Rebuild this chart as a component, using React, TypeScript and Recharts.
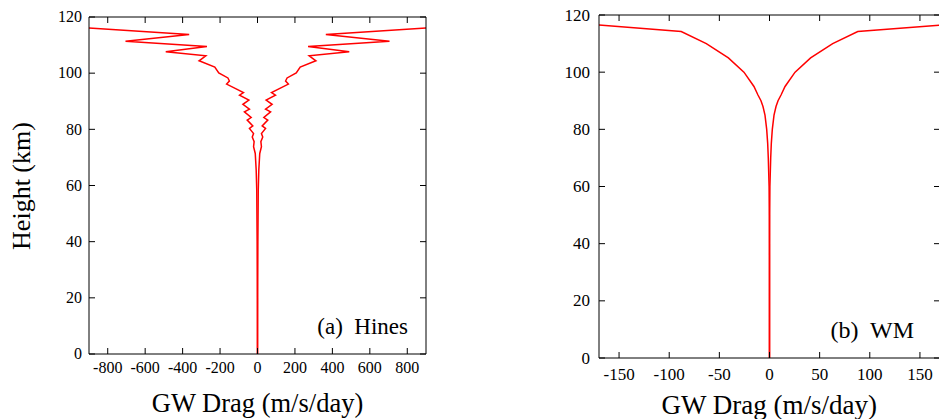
import { LineChart, Line, XAxis, YAxis } from "recharts";

const heightTicks = [0, 20, 40, 60, 80, 100, 120];
const hinesTicks = [-800, -600, -400, -200, 0, 200, 400, 600, 800];
const wmTicks = [-150, -100, -50, 0, 50, 100, 150];

// Hines profile, read top-down (km, m/s/day)
const hinesHeight = [
  116.5, 113.8, 111.4, 109.5, 107.6, 106.2, 104.4, 102.2, 100.1, 98.3, 97.2,
  96.1, 94.4, 93.1, 92.2, 90.4, 88.9, 87.2, 86.2, 84.2, 83.3, 81.2, 80.3, 78.5,
  77.3, 75.6, 73.8, 71.4, 65.5, 58.4, 40, 20, 0,
];
const hinesEast = [
  1000, 365, 705, 270, 490, 276, 312, 228, 207, 158, 150, 165, 114, 75, 96, 46,
  78, 43, 70, 34, 55, 25, 43, 21, 28, 18, 21, 12, 7, 4, 2, 1, 0,
];
const hinesWest = [
  -1000, -365, -705, -270, -490, -276, -312, -228, -207, -158, -150, -165, -114,
  -75, -96, -46, -78, -43, -70, -34, -55, -25, -43, -21, -28, -18, -21, -12, -7,
  -4, -2, -1, 0,
];

// WM profile
const wmHeight = [
  116.6, 114.2, 110, 105, 100, 95, 92, 90, 88, 85, 80, 75, 70, 60, 50, 40, 0,
];
const wmEast = [
  175, 88, 63, 41, 25.5, 15.5, 11.5, 8.5, 6.5, 4.5, 2.8, 1.8, 1.2, 0.4, 0.2, 0.1,
  0,
];
const wmWest = [
  -175, -88, -63, -41, -25.5, -15.5, -11.5, -8.5, -6.5, -4.5, -2.8, -1.8, -1.2,
  -0.4, -0.2, -0.1, 0,
];

const FONT = "'Liberation Serif', 'DejaVu Serif', 'Times New Roman', serif";

const rows = (hs: number[], ds: number[]) =>
  hs.map((h, i) => ({ h, drag: ds[i] }));

// eslint-disable-next-line @typescript-eslint/no-explicit-any
function BottomTick(props: any) {
  const { x, y, payload, fontSize, dy } = props;
  return (
    <g>
      <line x1={x} y1={y} x2={x} y2={y - 6} stroke="#000" />
      <text
        x={x}
        y={y + dy}
        textAnchor="middle"
        style={{ fontFamily: FONT, fontSize }}
        fill="#000"
      >
        {payload.value}
      </text>
    </g>
  );
}

// eslint-disable-next-line @typescript-eslint/no-explicit-any
function TopTick(props: any) {
  const { x, y } = props;
  return <line x1={x} y1={y} x2={x} y2={y + 6} stroke="#000" />;
}

// eslint-disable-next-line @typescript-eslint/no-explicit-any
function LeftTick(props: any) {
  const { x, y, payload, fontSize, gap } = props;
  return (
    <g>
      <line x1={x} y1={y} x2={x + 6} y2={y} stroke="#000" />
      <text
        x={x - gap}
        y={y + fontSize * 0.33}
        textAnchor="end"
        style={{ fontFamily: FONT, fontSize }}
        fill="#000"
      >
        {payload.value}
      </text>
    </g>
  );
}

// eslint-disable-next-line @typescript-eslint/no-explicit-any
function RightTick(props: any) {
  const { x, y } = props;
  return <line x1={x} y1={y} x2={x - 6} y2={y} stroke="#000" />;
}

type PanelProps = {
  width: number;
  margin: { top: number; right: number; bottom: number; left: number };
  domain: [number, number];
  ticks: number[];
  east: { h: number; drag: number }[];
  west: { h: number; drag: number }[];
  tickFont: number;
  xDy: number;
  yGap: number;
  children?: React.ReactNode;
};

function Panel(props: PanelProps) {
  const { width, margin, domain, ticks, east, west, tickFont, xDy, yGap } = props;
  const axisLine = { stroke: "#000", strokeWidth: 1 };
  return (
    <LineChart width={width} height={419} margin={margin} style={{ fontFamily: FONT }}>
      <XAxis
        xAxisId="b"
        type="number"
        dataKey="drag"
        domain={domain}
        ticks={ticks}
        interval={0}
        allowDataOverflow
        height={40}
        tickSize={0}
        tickMargin={0}
        tickLine={false}
        axisLine={axisLine}
        tick={<BottomTick fontSize={tickFont} dy={xDy} />}
      />
      <XAxis
        xAxisId="t"
        orientation="top"
        type="number"
        dataKey="drag"
        domain={domain}
        ticks={ticks}
        interval={0}
        allowDataOverflow
        height={10}
        tickSize={0}
        tickMargin={0}
        tickLine={false}
        axisLine={axisLine}
        tick={<TopTick />}
      />
      <YAxis
        yAxisId="l"
        type="number"
        dataKey="h"
        domain={[0, 120]}
        ticks={heightTicks}
        interval={0}
        allowDataOverflow
        width={60}
        tickSize={0}
        tickMargin={0}
        tickLine={false}
        axisLine={axisLine}
        tick={<LeftTick fontSize={tickFont} gap={yGap} />}
      />
      <YAxis
        yAxisId="r"
        orientation="right"
        type="number"
        dataKey="h"
        domain={[0, 120]}
        ticks={heightTicks}
        interval={0}
        allowDataOverflow
        width={10}
        tickSize={0}
        tickMargin={0}
        tickLine={false}
        axisLine={axisLine}
        tick={<RightTick />}
      />
      <Line
        data={west}
        dataKey="h"
        xAxisId="b"
        yAxisId="l"
        type="linear"
        stroke="#ff0000"
        strokeWidth={1.5}
        dot={false}
        isAnimationActive={false}
      />
      <Line
        data={east}
        dataKey="h"
        xAxisId="b"
        yAxisId="l"
        type="linear"
        stroke="#ff0000"
        strokeWidth={1.5}
        dot={false}
        isAnimationActive={false}
      />
      {props.children}
    </LineChart>
  );
}

export default function App() {
  return (
    <div
      style={{
        position: "absolute",
        left: 0,
        top: 0,
        width: 939,
        height: 419,
        overflow: "hidden",
        background: "#fff",
        fontFamily: FONT,
      }}
    >
      <div style={{ position: "absolute", left: 0, top: 0 }}>
        <Panel
          width={470}
          margin={{ top: 7, right: 34, bottom: 25, left: 29 }}
          domain={[-900, 900]}
          ticks={hinesTicks}
          east={rows(hinesHeight, hinesEast)}
          west={rows(hinesHeight, hinesWest)}
          tickFont={16}
          xDy={19}
          yGap={7}
        >
          <text
            x={257.5}
            y={411.5}
            textAnchor="middle"
            style={{ fontFamily: FONT, fontSize: 26.5 }}
            fill="#000"
          >
            GW Drag (m/s/day)
          </text>
          <text
            x={30}
            y={186}
            textAnchor="middle"
            style={{ fontFamily: FONT, fontSize: 26 }}
            fill="#000"
            transform="rotate(-90 30 186)"
          >
            Height (km)
          </text>
          <text
            x={408}
            y={334}
            textAnchor="end"
            style={{ fontFamily: FONT, fontSize: 23, whiteSpace: "pre" }}
            fill="#000"
          >
            {"(a)  Hines"}
          </text>
        </Panel>
      </div>
      <div style={{ position: "absolute", left: 530, top: 0 }}>
        <Panel
          width={420}
          margin={{ top: 5, right: 0, bottom: 21, left: 9 }}
          domain={[-170, 170]}
          ticks={wmTicks}
          east={rows(wmHeight, wmEast)}
          west={rows(wmHeight, wmWest)}
          tickFont={17}
          xDy={21.5}
          yGap={9}
        >
          <text
            x={239.3}
            y={414}
            textAnchor="middle"
            style={{ fontFamily: FONT, fontSize: 27 }}
            fill="#000"
          >
            GW Drag (m/s/day)
          </text>
          <text
            x={384}
            y={338}
            textAnchor="end"
            style={{ fontFamily: FONT, fontSize: 24, whiteSpace: "pre" }}
            fill="#000"
          >
            {"(b)  WM"}
          </text>
        </Panel>
      </div>
    </div>
  );
}
